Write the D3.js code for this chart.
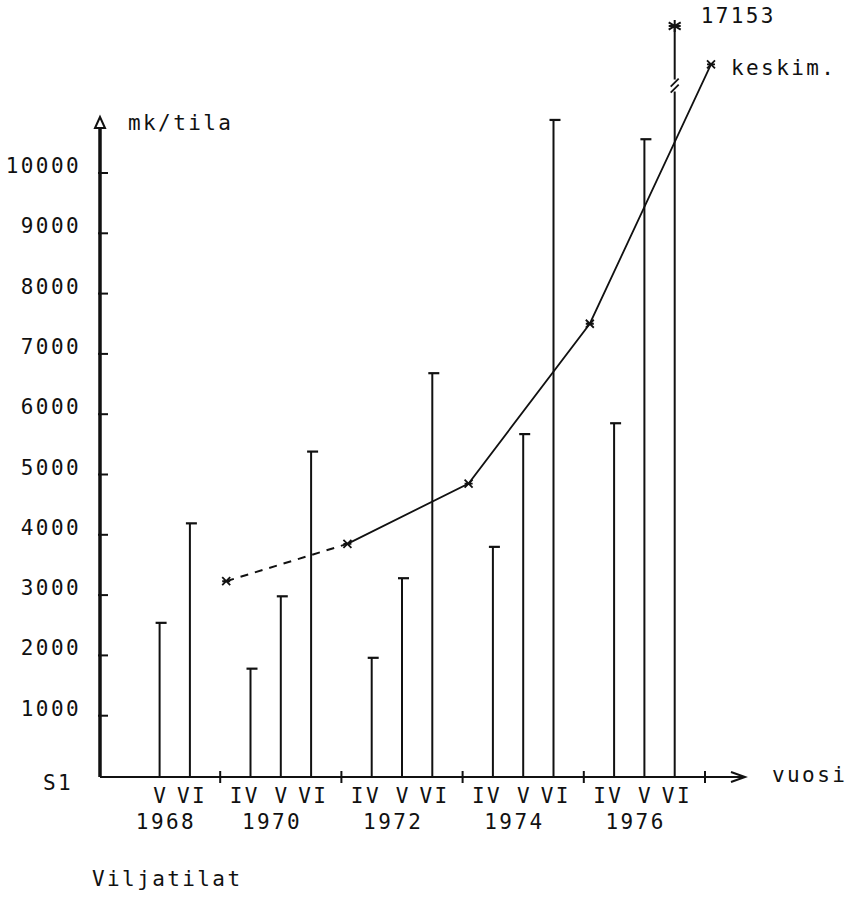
<!DOCTYPE html>
<html><head><meta charset="utf-8">
<script src="https://cdn.jsdelivr.net/npm/d3@7"></script>
<style>
body{margin:0;background:#fff}
text{font-family:"DejaVu Sans Mono",monospace;font-size:21px;letter-spacing:2.4px;fill:#111}
</style>
</head><body>
<svg id="c" width="850" height="898"></svg>
<script>
// ---- data ----
const periods = ["1968","1970","1972","1974","1976"];
const farmSizes = ["IV","V","VI"];
const barPeriod = ["1968","1968","1970","1970","1970","1972","1972","1972","1974","1974","1974","1976","1976","1976"];
const barSize   = ["V","VI","IV","V","VI","IV","V","VI","IV","V","VI","IV","V","VI"];
const barValue  = [2540,4190,1780,2980,5380,1960,3280,6680,3800,5670,10880,5850,10560,17153];
const avgPeriod = ["1968","1970","1972","1974","1976"];
const avgValue  = [3230,3850,4850,7500,11800];
const yTicks = [1000,2000,3000,4000,5000,6000,7000,8000,9000,10000];
const yTickLabels = ["1000","2000","3000","4000","5000","6000","7000","8000","9000","10000"];
const yTitle = "mk/tila", xTitle = "vuosi", avgLabel = "keskim.", figLabel = "S1", caption = "Viljatilat";
const breakLow = 11350, breakHigh = 11550;

// ---- scales ----
const svg = d3.select("#c");
const y0 = 776, k = 0.0603;
const y = d3.scaleLinear().domain([0, 12000, 17153]).range([y0, y0 - 12000*k, 26]);
const xBand = d3.scaleBand().domain(periods).range([99, 705]).padding(0);
const xSub = d3.scalePoint().domain(farmSizes).range([0, xBand.bandwidth()]).padding(1);
const bx = (p, s) => xBand(p) + xSub(s);

const ink = "#111";

// ---- y axis ----
const axX = 100;
svg.append("line").attr("x1", axX).attr("x2", axX).attr("y1", y0 + 1).attr("y2", 126)
  .attr("stroke", ink).attr("stroke-width", 3.5);
svg.append("path").attr("d", `M${axX},117 L${axX-5},128 L${axX+5},128 Z`)
  .attr("fill", "#fff").attr("stroke", ink).attr("stroke-width", 2);
const yt = svg.append("g");
yt.selectAll("line").data(yTicks).join("line")
  .attr("x1", axX - 2).attr("x2", axX + 8).attr("y1", d => y(d)).attr("y2", d => y(d))
  .attr("stroke", ink).attr("stroke-width", 2);
yt.selectAll("text").data(yTicks).join("text")
  .attr("x", 81).attr("y", d => y(d)).attr("text-anchor", "end")
  .text((d, i) => yTickLabels[i]);
svg.append("text").attr("x", 128).attr("y", 130).text(yTitle);

// ---- x axis ----
svg.append("line").attr("x1", axX).attr("x2", 745).attr("y1", y0 + 1).attr("y2", y0 + 1)
  .attr("stroke", ink).attr("stroke-width", 2);
svg.append("path").attr("d", `M731,${y0-4} L745,${y0+1} L731,${y0+6}`)
  .attr("fill", "none").attr("stroke", ink).attr("stroke-width", 2);
svg.append("g").selectAll("line").data(periods).join("line")
  .attr("x1", d => xBand(d) + xBand.bandwidth()).attr("x2", d => xBand(d) + xBand.bandwidth())
  .attr("y1", y0 - 5).attr("y2", y0 + 7).attr("stroke", ink).attr("stroke-width", 2);
svg.append("text").attr("x", 772).attr("y", 782).text(xTitle);
svg.append("text").attr("x", 43).attr("y", 790).text(figLabel);

// roman labels and years
const romanDx = {IV: -7, V: 0, VI: 1};
svg.append("g").selectAll("text").data(barValue.map((v, i) => i)).join("text")
  .attr("x", i => bx(barPeriod[i], barSize[i]) + romanDx[barSize[i]] + 1.2)
  .attr("y", 803).attr("text-anchor", "middle").text(i => barSize[i]);
svg.append("g").selectAll("text").data(periods).join("text")
  .attr("x", p => d3.mean(barPeriod.map((q, i) => q === p ? bx(q, barSize[i]) : null).filter(v => v !== null)) - 10 + 1.2)
  .attr("y", 829).attr("text-anchor", "middle").text(p => p);
svg.append("text").attr("x", 92).attr("y", 886).text(caption);

// ---- bars ----
const bars = svg.append("g");
barValue.forEach((v, i) => {
  const x = bx(barPeriod[i], barSize[i]);
  if (v > 12000) {
    bars.append("line").attr("x1", x).attr("x2", x).attr("y1", y0).attr("y2", y(breakLow))
      .attr("stroke", ink).attr("stroke-width", 2);
    bars.append("line").attr("x1", x).attr("x2", x).attr("y1", y(breakHigh)).attr("y2", y(v))
      .attr("stroke", ink).attr("stroke-width", 2);
    const ym = (y(breakLow) + y(breakHigh)) / 2;
    [-3, 3].forEach(o => bars.append("line")
      .attr("x1", x - 4).attr("y1", ym + o + 4).attr("x2", x + 4).attr("y2", ym + o - 4)
      .attr("stroke", ink).attr("stroke-width", 1.8));
    const cy = y(v), r = 6;
    bars.append("path")
      .attr("d", `M${x},${cy-r}L${x},${cy+r}M${x-r},${cy-r*0.6}L${x+r},${cy+r*0.6}M${x-r},${cy+r*0.6}L${x+r},${cy-r*0.6}M${x-r},${cy}L${x+r},${cy}`)
      .attr("stroke", ink).attr("stroke-width", 2);
    bars.append("text").attr("x", x + 26).attr("y", 23).text(String(v));
  } else {
    bars.append("line").attr("x1", x).attr("x2", x).attr("y1", y0).attr("y2", y(v))
      .attr("stroke", ink).attr("stroke-width", 2);
    bars.append("line").attr("x1", x - 4).attr("x2", x + 7).attr("y1", y(v)).attr("y2", y(v))
      .attr("stroke", ink).attr("stroke-width", 2.2);
  }
});

// ---- average line ----
const ax = p => xBand(p) + xBand.bandwidth() + 6;
const pts = avgValue.map((v, i) => [ax(avgPeriod[i]), y(v)]);
const line = d3.line();
svg.append("path").attr("d", line(pts.slice(0, 2))).attr("fill", "none")
  .attr("stroke", ink).attr("stroke-width", 2).attr("stroke-dasharray", "8,7");
svg.append("path").attr("d", line(pts.slice(1))).attr("fill", "none")
  .attr("stroke", ink).attr("stroke-width", 1.8);
svg.append("g").selectAll("path").data(pts).join("path")
  .attr("d", ([cx, cy]) => `M${cx-4},${cy-4}L${cx+4},${cy+4}M${cx-4},${cy+4}L${cx+4},${cy-4}M${cx-4},${cy}L${cx+4},${cy}`)
  .attr("stroke", ink).attr("stroke-width", 1.8);
svg.append("text").attr("x", pts[4][0] + 20).attr("y", 75).text(avgLabel);
</script>
</body></html>
